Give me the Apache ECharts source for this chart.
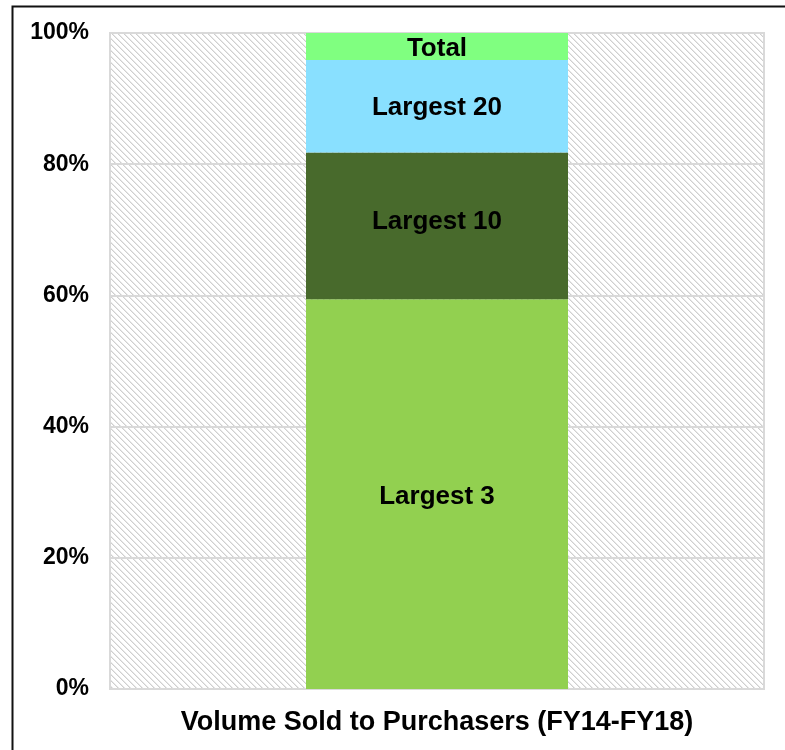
<!DOCTYPE html>
<html>
<head>
<meta charset="utf-8">
<script src="https://cdn.jsdelivr.net/npm/echarts@6/dist/echarts.min.js"></script>
<style>
  html, body { margin: 0; padding: 0; background: #fff; }
  #chart { width: 785px; height: 750px; }
</style>
</head>
<body>
<div id="chart"></div>
<script>
// Share of volume by purchaser group (stacked, percent)
const categories = ['Volume Sold to Purchasers (FY14-FY18)'];
const seriesNames = ['Largest 3', 'Largest 10', 'Largest 20', 'Total'];
const largest3 = [59.4];
const largest10 = [22.4];
const largest20 = [14.1];
const total = [4.1];
const yTicks = [0, 20, 40, 60, 80, 100];

const seriesValues = [largest3, largest10, largest20, total];
const seriesColors = ['#92d050', '#486a2c', '#89e0ff', '#80ff80'];
const labelNudge = [3, -4, 2, 2];

// Fine diagonal hatch for the plot background
function hatchPattern() {
  const c = document.createElement('canvas');
  c.width = 6; c.height = 6;
  const ctx = c.getContext('2d');
  ctx.fillStyle = '#ffffff';
  ctx.fillRect(0, 0, 6, 6);
  for (let i = 0; i < 6; i++) {
    ctx.fillStyle = '#cfcfcf';
    ctx.fillRect(i, i, 1, 1);
    ctx.fillStyle = '#e8e8e8';
    ctx.fillRect((i + 1) % 6, i, 1, 1);
  }
  return { image: c, repeat: 'repeat' };
}

const font = '"Liberation Sans", Arial, sans-serif';
const chart = echarts.init(document.getElementById('chart'), null, { renderer: 'canvas' });

chart.setOption({
  animation: false,
  backgroundColor: '#ffffff',
  graphic: [{
    type: 'rect',
    left: 10, top: 4,
    shape: { width: 800, height: 800 },
    style: { fill: 'none', stroke: '#111111', lineWidth: 2 },
    silent: true
  }],
  grid: {
    left: 110, right: 21, top: 33, bottom: 61,
    show: true,
    backgroundColor: hatchPattern(),
    borderColor: '#d9d9d9',
    borderWidth: 2
  },
  xAxis: {
    type: 'category',
    data: categories,
    axisLine: { show: false },
    axisTick: { show: false },
    axisLabel: { show: false },
    name: categories[0],
    nameLocation: 'middle',
    nameGap: 20,
    nameTextStyle: { fontFamily: font, fontWeight: 'bold', fontSize: 27, color: '#000' }
  },
  yAxis: {
    type: 'value',
    min: yTicks[0],
    max: yTicks[yTicks.length - 1],
    interval: 20,
    axisLine: { show: false },
    axisTick: { show: false },
    splitLine: { lineStyle: { color: '#d9d9d9', width: 2 } },
    axisLabel: {
      formatter: v => v + '%',
      fontFamily: font, fontWeight: 'bold', fontSize: 23, color: '#000',
      margin: 21,
      padding: [4, 0, 0, 0]
    }
  },
  series: seriesNames.map((name, i) => ({
    name: name,
    type: 'bar',
    stack: 'share',
    barWidth: 262,
    data: seriesValues[i],
    itemStyle: { color: seriesColors[i] },
    label: {
      show: true,
      position: 'inside',
      offset: [0, labelNudge[i]],
      formatter: name,
      fontFamily: font, fontWeight: 'bold', fontSize: 26, color: '#000'
    }
  }))
});
</script>
</body>
</html>
